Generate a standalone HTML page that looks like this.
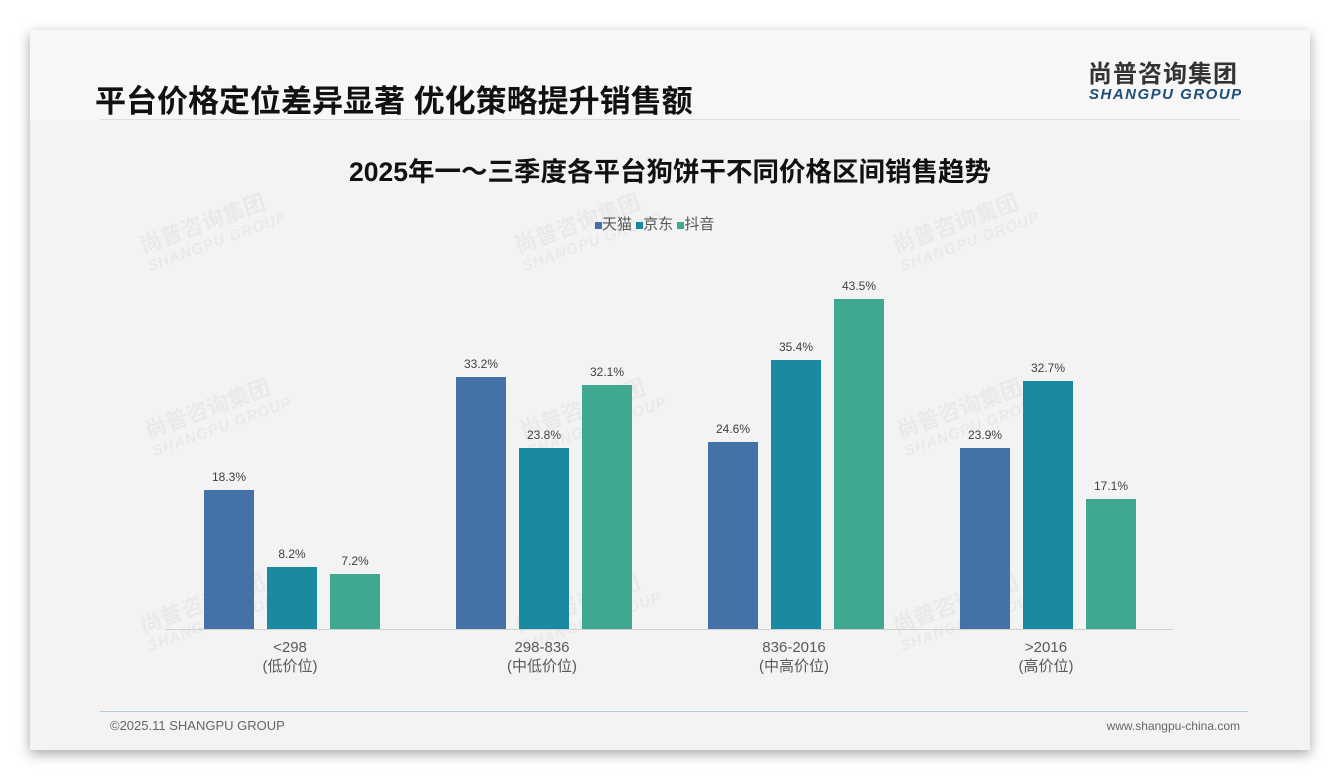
<!DOCTYPE html>
<html><head><meta charset="utf-8"><style>
body{margin:0;width:1340px;height:780px;background:#fff;position:relative;overflow:hidden;font-family:"Liberation Sans","Noto Sans CJK SC",sans-serif}
.card{position:absolute;left:30px;top:30px;width:1280px;height:720px;background:#f3f3f3;box-shadow:0 4px 12px rgba(0,0,0,.35)}
.abs{position:absolute}
.bar{position:absolute;width:50px}
.lbl{position:absolute;width:60px;text-align:center;font-size:12px;color:#404040}
.cat{position:absolute;width:160px;text-align:center;font-size:15px;color:#595959;line-height:19px}
.wm{position:absolute;color:rgba(0,0,0,.04);font-weight:bold;transform:rotate(-20deg);font-size:22px;line-height:22px}
.wm span{display:block;font-size:15px;font-style:italic;letter-spacing:1px}
</style></head><body>
<div class="card"></div>
<div class="abs" style="left:30px;top:30px;width:1280px;height:90px;background:#f7f7f7"></div>
<div class="abs" style="left:95px;top:76px;font-size:31px;font-weight:bold;color:#111">平台价格定位差异显著 优化策略提升销售额</div>
<div class="abs" style="left:1088px;top:61px;font-size:24px;line-height:28px;font-weight:bold;color:#333;letter-spacing:1px">尚普咨询集团</div>
<div class="abs" style="left:1089px;top:86px;font-size:15px;line-height:18px;font-weight:bold;font-style:italic;color:#1f4e79;letter-spacing:1.5px">SHANGPU GROUP</div>
<div class="abs" style="left:100px;top:119px;width:1140px;height:1px;background:#ddd"></div>
<div class="abs" style="left:0;width:1340px;top:150px;text-align:center;font-size:26.5px;font-weight:bold;color:#111">2025年一～三季度各平台狗饼干不同价格区间销售趋势</div>
<div class="abs" style="left:595px;top:213px;font-size:15px;color:#595959"><span style="display:inline-block;width:7px;height:7px;background:#4472a8"></span>天猫 <span style="display:inline-block;width:7px;height:7px;background:#1a8aa0"></span>京东 <span style="display:inline-block;width:7px;height:7px;background:#40a890"></span>抖音</div>
<div class="wm" style="left:140px;top:210px">尚普咨询集团<span>SHANGPU GROUP</span></div>
<div class="wm" style="left:515px;top:210px">尚普咨询集团<span>SHANGPU GROUP</span></div>
<div class="wm" style="left:893px;top:210px">尚普咨询集团<span>SHANGPU GROUP</span></div>
<div class="wm" style="left:145px;top:395px">尚普咨询集团<span>SHANGPU GROUP</span></div>
<div class="wm" style="left:520px;top:395px">尚普咨询集团<span>SHANGPU GROUP</span></div>
<div class="wm" style="left:897px;top:395px">尚普咨询集团<span>SHANGPU GROUP</span></div>
<div class="wm" style="left:140px;top:590px">尚普咨询集团<span>SHANGPU GROUP</span></div>
<div class="wm" style="left:515px;top:590px">尚普咨询集团<span>SHANGPU GROUP</span></div>
<div class="wm" style="left:893px;top:590px">尚普咨询集团<span>SHANGPU GROUP</span></div>
<div class="abs" style="left:165px;top:629px;width:1008px;height:1px;background:#d0d0d0"></div>
<div id="bars"></div>
<script>
var d=[[18.3,8.2,7.2],[33.2,23.8,32.1],[24.6,35.4,43.5],[23.9,32.7,17.1]];
var c=['#4472a8','#1a8aa0','#40a890'];var h='';
for(var g=0;g<4;g++)for(var i=0;i<3;i++){var x=204+g*252+i*63;var ht=d[g][i]*7.586;var t=629-ht;
h+='<div class="bar" style="left:'+x+'px;top:'+t+'px;height:'+ht+'px;background:'+c[i]+'"></div>';
h+='<div class="lbl" style="left:'+(x-5)+'px;top:'+(t-20)+'px">'+d[g][i].toFixed(1)+'%</div>';}
document.getElementById('bars').innerHTML=h;
</script>
<div class="cat" style="left:210px;top:638px">&lt;298<br>(低价位)</div>
<div class="cat" style="left:462px;top:638px">298-836<br>(中低价位)</div>
<div class="cat" style="left:714px;top:638px">836-2016<br>(中高价位)</div>
<div class="cat" style="left:966px;top:638px">&gt;2016<br>(高价位)</div>
<div class="abs" style="left:100px;top:711px;width:1148px;height:1px;background:#b8c8d8"></div>
<div class="abs" style="left:110px;top:718px;font-size:13px;color:#666">©2025.11 SHANGPU GROUP</div>
<div class="abs" style="right:100px;top:719px;font-size:12px;color:#666">www.shangpu-china.com</div>
</body></html>
